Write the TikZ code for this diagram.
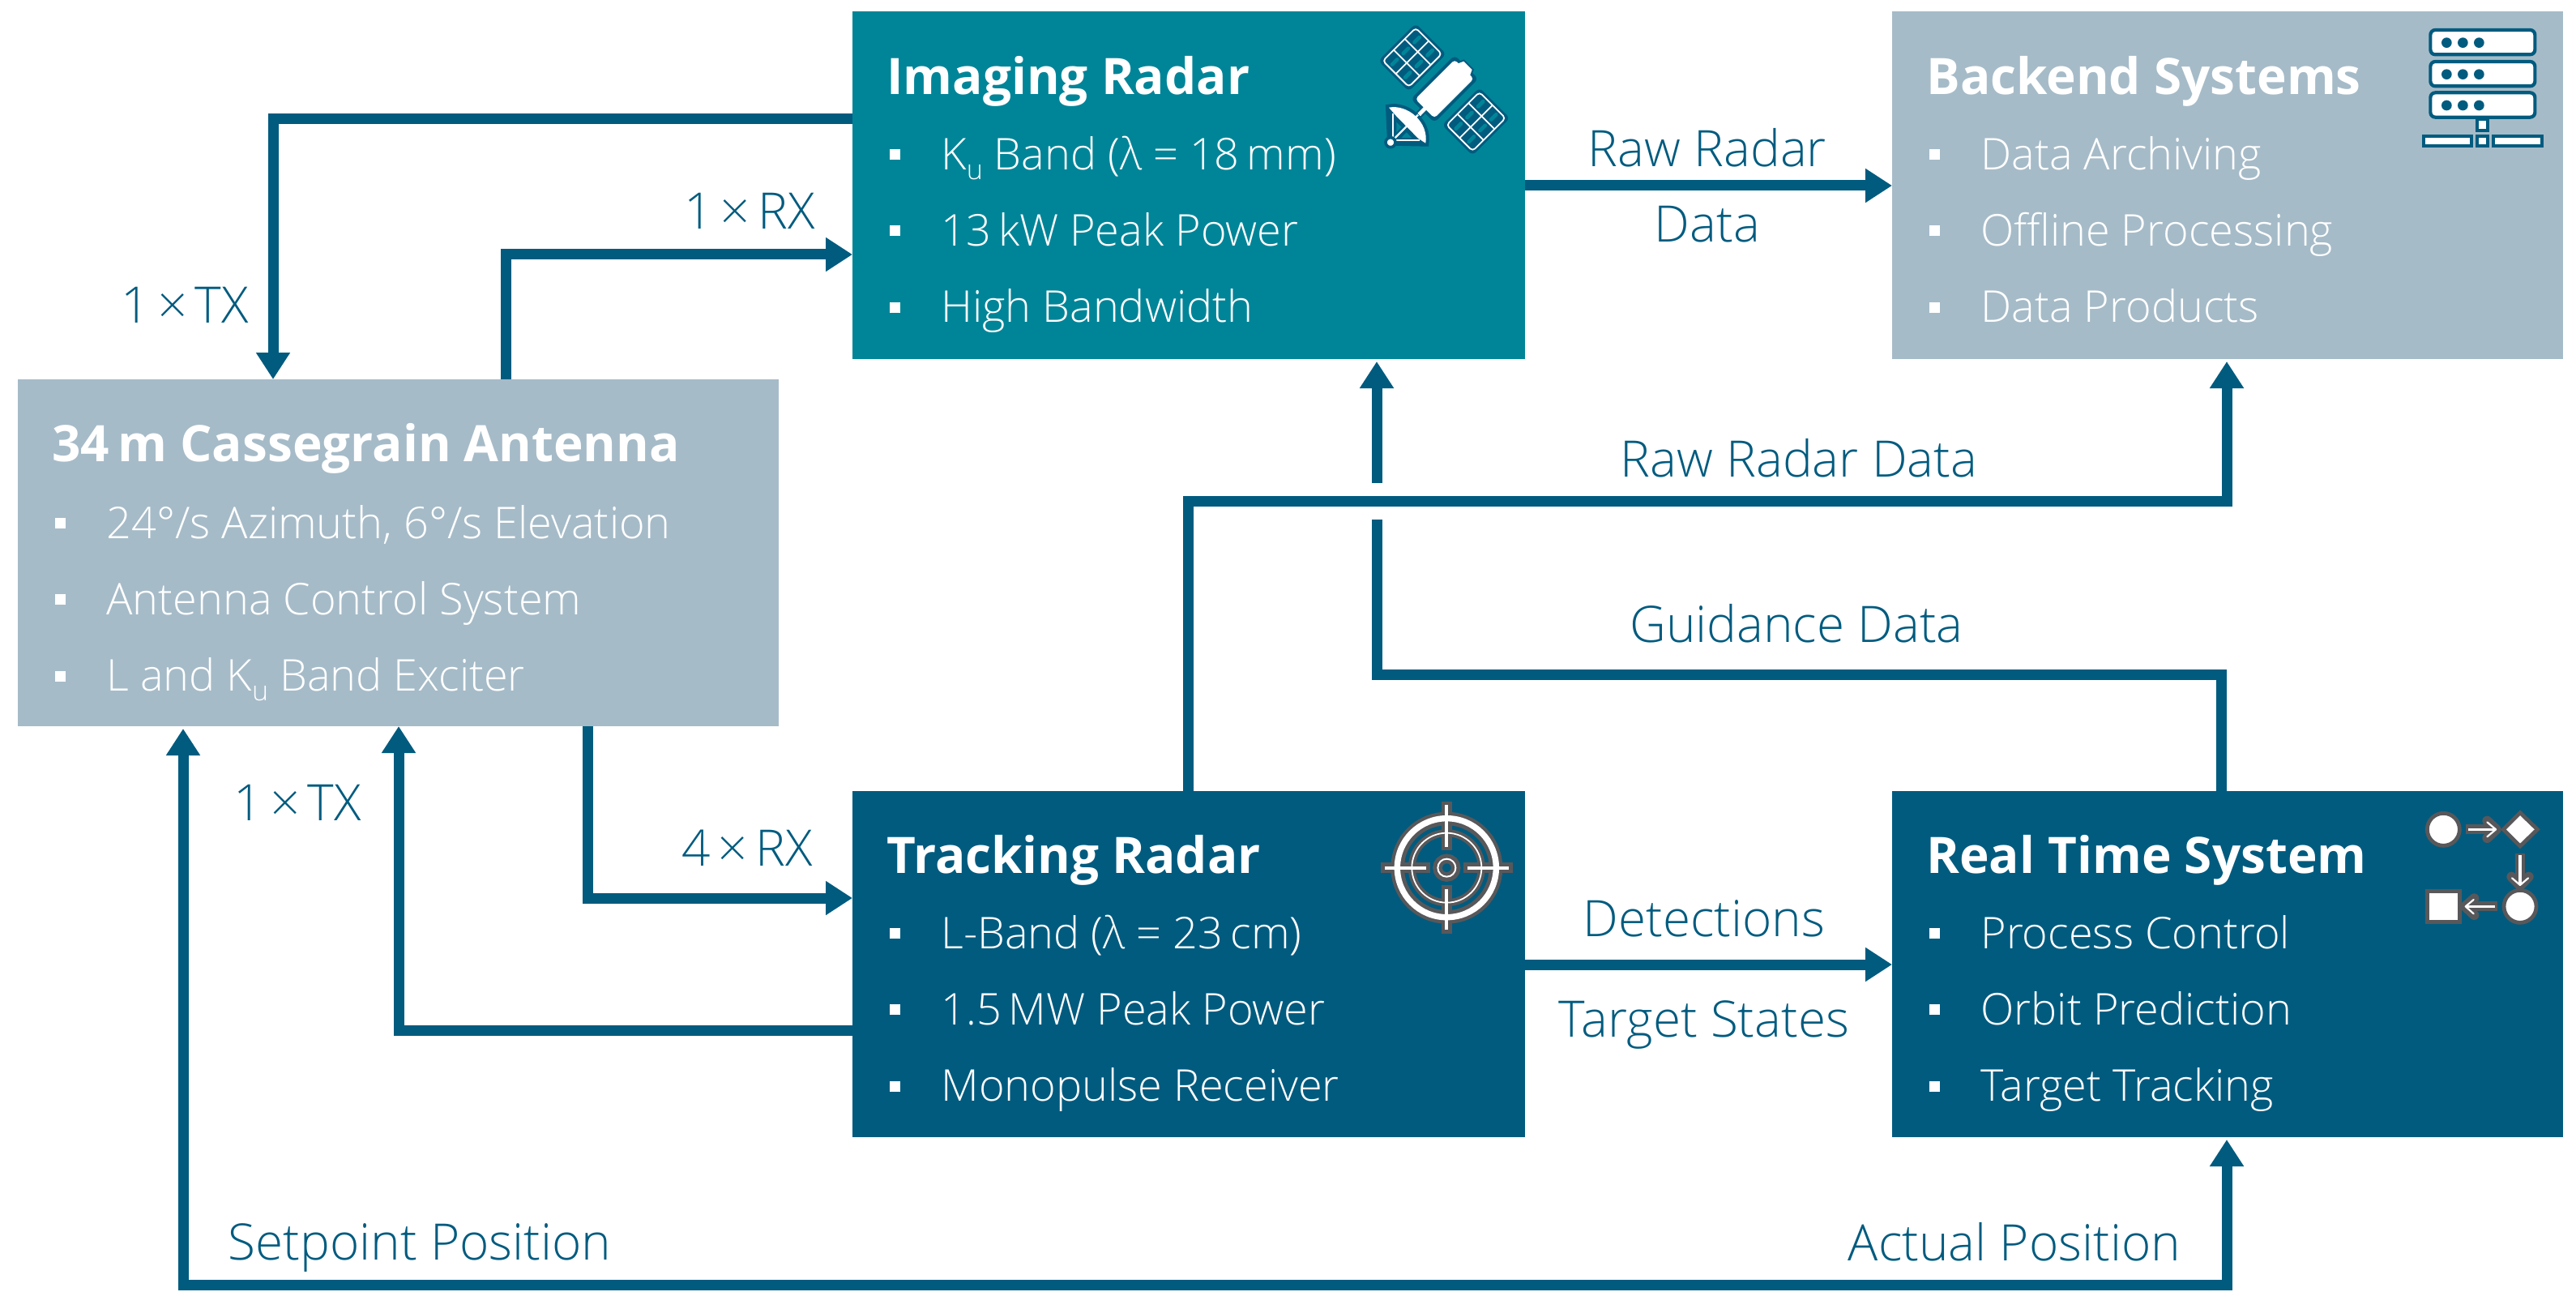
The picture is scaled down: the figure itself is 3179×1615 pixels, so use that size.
\documentclass[tikz,border=0pt]{standalone}
\usepackage{fontspec}
\setmainfont{Open Sans Light}[BoldFont={Open Sans Bold}]
\usetikzlibrary{arrows.meta,calc}

\definecolor{fhblue}{HTML}{005B7F}
\definecolor{fhteal}{HTML}{008598}
\definecolor{fhgrey}{HTML}{A6BBC8}
\definecolor{halo}{HTML}{58585A}

\tikzset{
  box/.style={rectangle,anchor=north west,inner sep=0pt,outer sep=0pt,draw=none},
  head/.style={anchor=base west,inner sep=0pt,text=white,font=\fontsize{31}{31}\selectfont\bfseries},
  item/.style={anchor=base west,inner sep=0pt,text=white,font=\fontsize{27}{27}\selectfont},
  lbl/.style={anchor=base,inner sep=0pt,text=fhblue,font=\fontsize{31}{31}\selectfont},
  link/.style={draw=fhblue,line width=6.5pt},
  flow/.style={link,-{Triangle[length=16.5pt,width=20pt]}},
  flowup/.style={flow,shorten >=1.5pt},
  both/.style={link,{Triangle[length=16.5pt,width=20pt]}-{Triangle[length=16.5pt,width=20pt]},shorten >=1.5pt,shorten <=1.5pt},
  icon/.style={x=0.16667pt,y=-0.16667pt},
}

% box with title and three bullets
\newcommand{\tdy}{0}
\newcommand{\hdy}{0}
\newcommand{\sysbox}[7]{
  \node[box,#1] (#2) at (#3) {};
  \node[head] (#2-t) at ($(#2.north west)+(42,101+\hdy)$) {#4};
  \node[item] (#2-a) at ($(#2.north west)+(109,196+\tdy)$) {#5};
  \node[item] (#2-b) at ($(#2.north west)+(109,290+\tdy)$) {#6};
  \node[item] (#2-c) at ($(#2.north west)+(109,384+\tdy)$) {#7};
  \foreach \yy in {177,271,366}
    \fill[white] ($(#2.north west)+(46,\yy-6.5+\tdy)$) rectangle ++(13,13);
}
\newcommand{\Ku}{K\raisebox{-6pt}{\fontsize{17}{17}\selectfont u}}
\newcommand{\satpanel}[1]{
  \begin{scope}[shift={(#1)},rotate=45]
    \fill[fhblue,rounded corners=3pt] (-98,-80) rectangle (98,80);
    \foreach \ux in {-58,0,58} \foreach \uy in {-34,34}
      \fill[fhteal,rounded corners=0.8pt] (\ux-20,\uy-7) rectangle (\ux+20,\uy+7);
    \draw[white,line width=0.9pt,rounded corners=2pt] (-86,-68) rectangle (86,68);
    \draw[white,line width=0.9pt] (-29,-68) -- (-29,68) (29,-68) -- (29,68) (-86,0) -- (86,0);
  \end{scope}
}

\begin{document}
\begin{tikzpicture}[x=0.5pt,y=-0.5pt]
\useasboundingbox (0,0) rectangle (3179,1615);

\renewcommand{\hdy}{2}
\sysbox{fill=fhteal,minimum width=415pt,minimum height=214.5pt}{img}{1052,14}{Imaging Radar}
  {\Ku\ Band (λ = 18\,mm)}{13\,kW Peak Power}{High Bandwidth}
\sysbox{fill=fhgrey,minimum width=414pt,minimum height=214.5pt}{bak}{2335,14}{Backend Systems}
  {Data Archiving}{Offline Processing}{Data Products}
\renewcommand{\hdy}{0}
\sysbox{fill=fhgrey,minimum width=469.5pt,minimum height=214pt}{ant}{22,468}{34\,m Cassegrain Antenna}
  {24°/s Azimuth, 6°/s Elevation}{Antenna Control System}{L and \Ku\ Band Exciter}
\renewcommand{\tdy}{-1.5}
\sysbox{fill=fhblue,minimum width=415pt,minimum height=213.5pt}{trk}{1052,976}{Tracking Radar}
  {L-Band (λ = 23\,cm)}{1.5\,MW Peak Power}{Monopulse Receiver}
\sysbox{fill=fhblue,minimum width=414pt,minimum height=213.5pt}{rts}{2335,976}{Real Time System}
  {Process Control}{Orbit Prediction}{Target Tracking}

% connectors
\draw[flow] (img.west |- 0,147) -| (ant.north -| 337,0);
\draw[flow] (ant.north -| 624,0) |- (img.west |- 0,314);
\draw[flow] (ant.south -| 725,0) |- (trk.west |- 0,1108);
\draw[flow] (trk.west |- 0,1271) -| (ant.south -| 492,0);
\draw[both] (rts.south -| 2748,0) |- (226,1585) -- (ant.south -| 226,0);
\draw[flow] (img.east |- 0,229) -- (bak.west |- 0,229);
\draw[flow] (trk.east |- 0,1190) -- (rts.west |- 0,1190);
\draw[flowup] (trk.north -| 1466,0) |- (2748,618.5) -- (bak.south -| 2748,0);
\coordinate (gapup) at (1699,596);
\coordinate (gapdn) at (1699,641);
\draw[flowup] (gapup) -- (img.south -| gapup);
\draw[link] (rts.north -| 2741,0) |- (1699,832) -- (gapdn);

% labels
\node[lbl] (l1) at (2107,206) {Raw Radar};
\node[lbl] (l2) at (2107,299) {Data};
\node[lbl] (l3) at (2103,1155) {Detections};
\node[lbl] (l4) at (2103,1279) {Target States};
\node[lbl] (l5) at (228,399) {1\,×\,TX};
\node[lbl] (l6) at (925,283) {1\,×\,RX};
\node[lbl] (l7) at (367,1012) {1\,×\,TX};
\node[lbl] (l8) at (922,1068) {4\,×\,RX};
\node[lbl] (l9) at (2220,588) {Raw Radar Data};
\node[lbl] (l10) at (2217,792) {Guidance Data};
\node[lbl] (l11) at (518,1554) {Setpoint Position};
\node[lbl] (l12) at (2486,1555) {Actual Position};

% satellite icon
\begin{scope}[shift={(1640,0)},icon]
  \satpanel{308.5,212.5}
  \satpanel{544.5,450}
  \draw[fhblue,line width=4.6pt] (355,402) -- (330,428);
  \begin{scope}[shift={(428,329)},rotate=45]
    \fill[fhblue,rounded corners=3pt] (-115,-62) rectangle (115,62);
    \filldraw[draw=fhblue,line width=2pt,fill=fhblue] (100,-32) -- (122,-22) -- (122,22) -- (100,32) -- cycle;
    \fill[white,rounded corners=2pt] (-103,-50) rectangle (103,50);
    \fill[white] (100,-32) -- (122,-22) -- (122,22) -- (100,32) -- cycle;
  \end{scope}
  \draw[white,line width=2.4pt] (358,399) -- (330,428);
  \filldraw[draw=fhblue,fill=fhblue,line width=4pt] (222,398) .. controls (290,385) and (370,450) .. (358,530) -- (228,527) -- cycle;
  \fill[fhteal] (250,452) -- (250,490) -- (268,470) -- cycle (268,510) -- (306,510) -- (287,490) -- cycle;
  \fill[white] (222,398) .. controls (290,385) and (370,450) .. (358,530) -- (330,512) -- (245,425) -- cycle;
  \draw[white,line width=1.1pt] (237,420) -- (237,520) -- (335,520);
  \draw[white,line width=1.1pt] (228,527) -- (330,425);
  \filldraw[draw=fhblue,fill=white,line width=1.8pt] (228,527) circle (18);
\end{scope}

% server icon
\begin{scope}[shift={(2950,0)},icon,line width=2.1pt,draw=fhblue,fill=white]
  \foreach \ty in {105,222,337} {
    \filldraw[rounded corners=3pt] (148,\ty+6) rectangle (535,\ty+97);
    \foreach \tx in {208,268,328} \fill[fhblue] (\tx,\ty+53) circle (19);
  }
  \filldraw (322,440) rectangle (359,482);
  \filldraw (124,505) rectangle (299,539);
  \filldraw (322,505) rectangle (359,539);
  \filldraw (382,505) rectangle (560,539);
\end{scope}

% target icon
\begin{scope}[shift={(1680,970)},icon]
  \draw[halo,line width=8.3pt] (316,302) circle (182);
  \draw[halo,line width=4.5pt] (316,302) circle (129);
  \draw[halo,line width=5.8pt] (316,302) circle (34);
  \draw[halo,line width=6.2pt] (316,57) -- (316,238) (316,366) -- (316,545) (72,302) -- (254,302) (378,302) -- (560,302);
  \draw[white,line width=3.7pt] (316,302) circle (183);
  \draw[white,line width=0.9pt] (316,302) circle (129);
  \draw[white,line width=1pt] (316,302) circle (33);
  \draw[white,line width=2pt] (316,70) -- (316,225) (316,380) -- (316,530) (87,302) -- (240,302) (392,302) -- (547,302);
\end{scope}

% process icon
\begin{scope}[shift={(2960,980)},icon,line width=2.4pt,draw=halo,fill=white]
  \filldraw (166,130) circle (60);
  \filldraw (450,68) -- (514,130) -- (450,192) -- (388,130) -- cycle;
  \filldraw (450,415) circle (60);
  \filldraw (106,358) rectangle (227,473);
  \begin{scope}[line cap=round,line join=round]
    \draw[halo,line width=6pt,line cap=butt] (250,130) -- (360,130);
    \draw[halo,line width=6pt] (328,98) -- (362,130) -- (328,162);
    \draw[halo,line width=6pt,line cap=butt] (450,218) -- (450,340);
    \draw[halo,line width=6pt] (418,305) -- (450,338) -- (482,305);
    \draw[halo,line width=6pt,line cap=butt] (365,415) -- (245,415);
    \draw[halo,line width=6pt] (280,385) -- (246,415) -- (280,447);
    \draw[white,line width=1.8pt,line cap=butt] (258,130) -- (360,130);
    \draw[white,line width=1.1pt] (328,103) -- (360,130) -- (328,157);
    \draw[white,line width=1.8pt,line cap=butt] (450,226) -- (450,336);
    \draw[white,line width=1.1pt] (420,310) -- (450,336) -- (480,310);
    \draw[white,line width=1.8pt,line cap=butt] (357,415) -- (250,415);
    \draw[white,line width=1.1pt] (278,390) -- (248,415) -- (278,442);
  \end{scope}
\end{scope}
\end{tikzpicture}
\end{document}
